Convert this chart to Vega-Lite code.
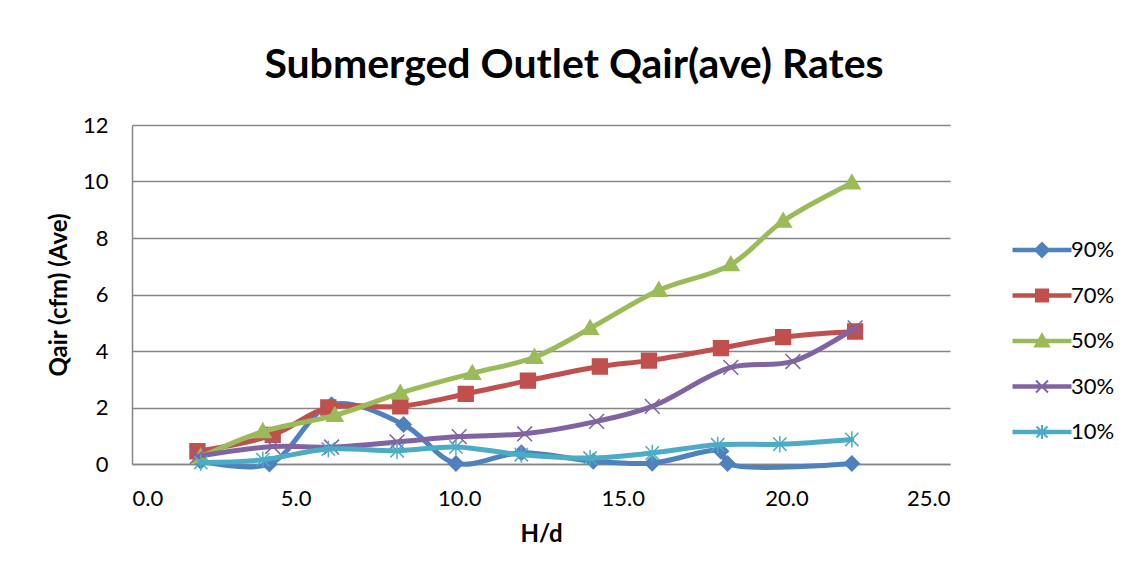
{
  "$schema": "https://vega.github.io/schema/vega-lite/v6.json",
  "autosize": "none",
  "width": 818,
  "height": 339,
  "padding": {"left": 132, "top": 125, "right": 181, "bottom": 121},
  "background": "white",
  "config": {
    "font": "Lato",
    "view": {"stroke": null},
    "axis": {"domainColor": "#868686", "domainWidth": 1.5, "gridColor": "#868686", "gridWidth": 1.3, "ticks": false, "tickSize": 0, "labelColor": "#000000", "titleColor": "#000000", "labelFont": "Lato", "titleFont": "Lato"},
    "line": {"interpolate": "catmull-rom", "strokeWidth": 5, "strokeCap": "round"},
    "point": {"filled": true, "opacity": 1, "strokeWidth": 1.5, "size": 220}
  },
  "title": {
    "text": "Submerged Outlet Qair(ave) Rates",
    "font": "Lato",
    "fontSize": 41,
    "fontWeight": "bold",
    "color": "#000000",
    "anchor": "middle",
    "frame": "group",
    "dx": 33,
    "offset": 27
  },
  "data": {
    "values": [
      {"series": "90%", "hd": 2.1, "q": 0.1},
      {"series": "90%", "hd": 4.2, "q": 0.0},
      {"series": "90%", "hd": 6.1, "q": 2.1},
      {"series": "90%", "hd": 8.3, "q": 1.4},
      {"series": "90%", "hd": 9.9, "q": 0.02},
      {"series": "90%", "hd": 11.9, "q": 0.4},
      {"series": "90%", "hd": 14.1, "q": 0.1},
      {"series": "90%", "hd": 15.9, "q": 0.03},
      {"series": "90%", "hd": 18.0, "q": 0.45},
      {"series": "90%", "hd": 18.2, "q": 0.02},
      {"series": "90%", "hd": 22.0, "q": 0.02},
      {"series": "70%", "hd": 2.0, "q": 0.45},
      {"series": "70%", "hd": 4.3, "q": 1.03},
      {"series": "70%", "hd": 6.0, "q": 2.0},
      {"series": "70%", "hd": 8.2, "q": 2.04},
      {"series": "70%", "hd": 10.2, "q": 2.48},
      {"series": "70%", "hd": 12.1, "q": 2.95},
      {"series": "70%", "hd": 14.3, "q": 3.45},
      {"series": "70%", "hd": 15.8, "q": 3.66},
      {"series": "70%", "hd": 18.0, "q": 4.1},
      {"series": "70%", "hd": 19.9, "q": 4.49},
      {"series": "70%", "hd": 22.1, "q": 4.69},
      {"series": "50%", "hd": 2.1, "q": 0.25},
      {"series": "50%", "hd": 4.0, "q": 1.15},
      {"series": "50%", "hd": 6.2, "q": 1.72},
      {"series": "50%", "hd": 8.2, "q": 2.51},
      {"series": "50%", "hd": 10.4, "q": 3.21},
      {"series": "50%", "hd": 12.3, "q": 3.78},
      {"series": "50%", "hd": 14.0, "q": 4.8},
      {"series": "50%", "hd": 16.1, "q": 6.15},
      {"series": "50%", "hd": 18.3, "q": 7.06},
      {"series": "50%", "hd": 19.9, "q": 8.6},
      {"series": "50%", "hd": 22.0, "q": 9.95},
      {"series": "30%", "hd": 2.0, "q": 0.27},
      {"series": "30%", "hd": 4.3, "q": 0.62},
      {"series": "30%", "hd": 6.1, "q": 0.6},
      {"series": "30%", "hd": 8.1, "q": 0.78},
      {"series": "30%", "hd": 10.0, "q": 0.97},
      {"series": "30%", "hd": 12.0, "q": 1.07},
      {"series": "30%", "hd": 14.2, "q": 1.51},
      {"series": "30%", "hd": 15.9, "q": 2.04},
      {"series": "30%", "hd": 18.3, "q": 3.42},
      {"series": "30%", "hd": 20.2, "q": 3.63},
      {"series": "30%", "hd": 22.1, "q": 4.82},
      {"series": "10%", "hd": 2.1, "q": 0.05},
      {"series": "10%", "hd": 4.0, "q": 0.15},
      {"series": "10%", "hd": 6.0, "q": 0.53},
      {"series": "10%", "hd": 8.1, "q": 0.47},
      {"series": "10%", "hd": 9.9, "q": 0.6},
      {"series": "10%", "hd": 11.9, "q": 0.33},
      {"series": "10%", "hd": 14.0, "q": 0.21},
      {"series": "10%", "hd": 15.9, "q": 0.39},
      {"series": "10%", "hd": 17.9, "q": 0.68},
      {"series": "10%", "hd": 19.8, "q": 0.7},
      {"series": "10%", "hd": 22.0, "q": 0.87}
    ]
  },
  "encoding": {
    "x": {
      "field": "hd", "type": "quantitative",
      "scale": {"domain": [0, 25], "nice": false, "zero": true},
      "axis": {"values": [0, 5, 10, 15, 20, 25], "format": ".1f", "grid": false, "title": "H/d", "labelFontSize": 22, "labelPadding": 24, "titleFontSize": 24, "titleFontWeight": "bold", "titlePadding": 13}
    },
    "y": {
      "field": "q", "type": "quantitative",
      "scale": {"domain": [0, 12], "nice": false},
      "axis": {"values": [0, 2, 4, 6, 8, 10, 12], "grid": true, "title": "Qair (cfm) (Ave)", "labelFontSize": 22, "labelPadding": 24, "titleFontSize": 24, "titleFontWeight": "bold", "titlePadding": 11}
    }
  },
  "layer": [
    {
      "transform": [{"filter": "datum.series === '90%'"}],
      "mark": {"type": "line"},
      "encoding": {
        "color": {
          "field": "series", "type": "nominal",
          "scale": {"domain": ["90%", "70%", "50%", "30%", "10%"], "range": ["#4F81BD", "#C0504D", "#9BBB59", "#8064A2", "#4BACC6"]},
          "legend": {
            "title": null,
            "orient": "none",
            "legendX": 899,
            "legendY": 114,
            "labelFontSize": 22,
            "labelColor": "#000000",
            "labelFont": "Lato",
            "symbolSize": 400,
            "symbolStrokeWidth": 2,
            "labelOffset": 18,
            "rowPadding": 23.5,
            "padding": 0,
            "encoding": {
              "symbols": {
                "shape": {"value": {"expr": "datum.value === '90%' ? 'M-2.85,-0.12H2.85V0.12H-2.85Z M0,-0.7L0.7,0L0,0.7L-0.7,0Z' : datum.value === '70%' ? 'M-2.85,-0.12H2.85V0.12H-2.85Z M-0.6,-0.6H0.6V0.6H-0.6Z' : datum.value === '50%' ? 'M-2.85,-0.12H2.85V0.12H-2.85Z M0,-0.7L0.7,0.55L-0.7,0.55Z' : datum.value === '30%' ? 'M-2.85,-0.12H2.85V0.12H-2.85Z M-0.6,-0.6L0.6,0.6M-0.6,0.6L0.6,-0.6' : 'M-2.85,-0.12H2.85V0.12H-2.85Z M-0.55,-0.55L0.55,0.55M-0.55,0.55L0.55,-0.55M0,-0.7V0.7'"}},
                "fill": {"value": {"expr": "scale('color', datum.value)"}},
                "stroke": {"value": {"expr": "scale('color', datum.value)"}},
                "strokeWidth": {"value": 2},
                "opacity": {"value": 1}
              }
            }
          }
        }
      }
    },
    {
      "transform": [{"filter": "datum.series === '90%'"}],
      "mark": {"type": "point", "shape": "M0,-1L1,0L0,1L-1,0Z", "fill": "#4F81BD", "stroke": "#4F81BD"}
    },
    {
      "transform": [{"filter": "datum.series === '70%'"}],
      "mark": {"type": "line"},
      "encoding": {"color": {"field": "series", "type": "nominal"}}
    },
    {
      "transform": [{"filter": "datum.series === '70%'"}],
      "mark": {"type": "point", "shape": "square", "fill": "#C0504D", "stroke": "#C0504D"}
    },
    {
      "transform": [{"filter": "datum.series === '50%'"}],
      "mark": {"type": "line"},
      "encoding": {"color": {"field": "series", "type": "nominal"}}
    },
    {
      "transform": [{"filter": "datum.series === '50%'"}],
      "mark": {"type": "point", "shape": "M0,-1.1L1.1,0.8L-1.1,0.8Z", "fill": "#9BBB59", "stroke": "#9BBB59"}
    },
    {
      "transform": [{"filter": "datum.series === '30%'"}],
      "mark": {"type": "line"},
      "encoding": {"color": {"field": "series", "type": "nominal"}}
    },
    {
      "transform": [{"filter": "datum.series === '30%'"}],
      "mark": {"type": "point", "shape": "M-1,-1L1,1M-1,1L1,-1", "fill": "#8064A2", "stroke": "#8064A2"}
    },
    {
      "transform": [{"filter": "datum.series === '10%'"}],
      "mark": {"type": "line"},
      "encoding": {"color": {"field": "series", "type": "nominal"}}
    },
    {
      "transform": [{"filter": "datum.series === '10%'"}],
      "mark": {"type": "point", "shape": "M-0.9,-0.9L0.9,0.9M-0.9,0.9L0.9,-0.9M0,-1.1V1.1", "fill": "#4BACC6", "stroke": "#4BACC6"}
    }
  ]
}
